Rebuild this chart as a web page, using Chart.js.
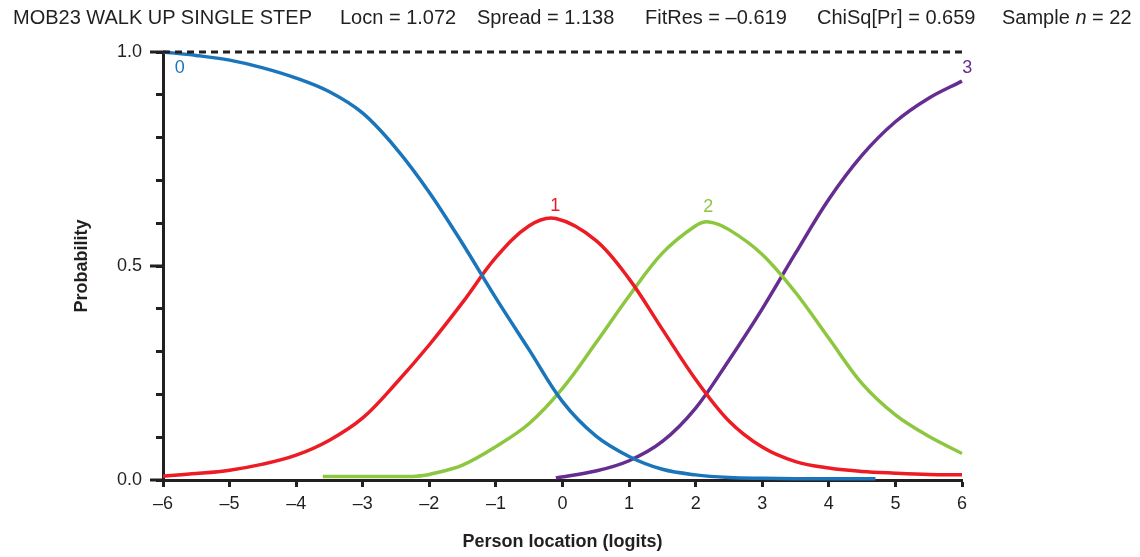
<!DOCTYPE html>
<html>
<head>
<meta charset="utf-8">
<script src="https://cdn.jsdelivr.net/npm/chart.js@4/dist/chart.umd.min.js"></script>
<style>
  body { margin: 0; background: #fff; }
  #wrap { position: relative; width: 1140px; height: 557px; }
  #title span {
    position: absolute;
    top: 7px;
    font: 20px "Liberation Sans", Arial, sans-serif;
    line-height: 20px;
    color: #231f20;
    white-space: nowrap;
  }
</style>
</head>
<body>
<div id="wrap">
  <div id="title">
    <span style="left:13px">MOB23 WALK UP SINGLE STEP</span>
    <span style="left:340px">Locn = 1.072</span>
    <span style="left:477px">Spread = 1.138</span>
    <span style="left:645px">FitRes = –0.619</span>
    <span style="left:817px">ChiSq[Pr] = 0.659</span>
    <span style="left:1002px">Sample <i>n</i> = 22</span>
  </div>
  <canvas id="ccc"></canvas>
</div>
<script>
// category probability curves
const x0 = [-6, -5.5, -5, -4.5, -4, -3.5, -3, -2.5, -2, -1.5, -1, -0.5, 0, 0.5, 1, 1.5, 2, 2.5, 3, 3.5, 4, 4.7];
const p0 = [1.0, 0.992, 0.981, 0.963, 0.939, 0.907, 0.857, 0.775, 0.672, 0.552, 0.425, 0.304, 0.183, 0.103, 0.055, 0.025, 0.012, 0.006, 0.004, 0.003, 0.003, 0.003];

const x1 = [-6, -5.5, -5, -4.5, -4, -3.5, -3, -2.5, -2, -1.5, -1, -0.5, -0.1, 0.5, 1, 1.5, 2, 2.5, 3, 3.5, 4, 4.5, 5, 5.5, 6];
const p1 = [0.009, 0.015, 0.023, 0.037, 0.058, 0.093, 0.145, 0.226, 0.316, 0.415, 0.52, 0.594, 0.611, 0.56, 0.47, 0.352, 0.235, 0.138, 0.077, 0.043, 0.028, 0.02, 0.016, 0.013, 0.012];

const x2 = [-3.6, -3, -2.5, -2.2, -2, -1.5, -1, -0.5, 0, 0.5, 1, 1.5, 2, 2.2, 2.5, 3, 3.5, 4, 4.5, 5, 5.5, 6];
const p2 = [0.008, 0.008, 0.008, 0.009, 0.013, 0.035, 0.078, 0.132, 0.214, 0.32, 0.43, 0.53, 0.594, 0.603, 0.585, 0.527, 0.438, 0.331, 0.225, 0.152, 0.102, 0.062];

const x3 = [-0.1, 0.5, 1, 1.5, 2, 2.5, 3, 3.5, 4, 4.5, 5, 5.5, 6];
const p3 = [0.005, 0.021, 0.045, 0.09, 0.168, 0.28, 0.4, 0.53, 0.656, 0.759, 0.837, 0.892, 0.932];

const refX = [-6, 6];
const refY = [1, 1];

const curveNames = ["0", "1", "2", "3"];
const curveColors = ["#1b75bb", "#ed1c24", "#8dc63f", "#662d91"];
const labelX = [-5.75, -0.11, 2.19, 6.08];
const labelY = [0.963, 0.64, 0.638, 0.963];

const ink = "#231f20";

function pts(xs, ys) {
  return xs.map((x, i) => ({ x: x, y: ys[i] }));
}

const curveSets = [[x0, p0], [x1, p1], [x2, p2], [x3, p3]].map((s, i) => ({
  label: curveNames[i],
  data: pts(s[0], s[1]),
  borderColor: curveColors[i],
  borderWidth: 3.5,
  pointRadius: 0,
  tension: 0.35,
  clip: 6,
}));

const extras = {
  id: "extras",
  afterDraw(chart) {
    const ctx = chart.ctx;
    const xs = chart.scales.x;
    const ys = chart.scales.y;
    const left = chart.chartArea.left;
    ctx.save();
    // longer ticks at 0, 0.5, 1
    ctx.strokeStyle = ink;
    ctx.lineWidth = 3;
    [0, 0.5, 1].forEach((v) => {
      const py = ys.getPixelForValue(v);
      ctx.beginPath();
      ctx.moveTo(left - 13, py);
      ctx.lineTo(left, py);
      ctx.stroke();
    });
    // curve labels
    ctx.font = '18px "Liberation Sans", Arial, sans-serif';
    ctx.textAlign = "center";
    ctx.textBaseline = "middle";
    curveNames.forEach((t, i) => {
      ctx.fillStyle = curveColors[i];
      ctx.fillText(t, xs.getPixelForValue(labelX[i]), ys.getPixelForValue(labelY[i]));
    });
    ctx.restore();
  },
};

new Chart(document.getElementById("ccc"), {
  type: "line",
  data: {
    datasets: [
      {
        label: "ref",
        data: pts(refX, refY),
        borderColor: ink,
        borderWidth: 3,
        borderDash: [7, 5],
        pointRadius: 0,
        clip: 6,
      },
      ...curveSets,
    ],
  },
  options: {
    responsive: true,
    maintainAspectRatio: false,
    animation: false,
    layout: { padding: { left: 0, right: 178, top: 52, bottom: 0 } },
    plugins: { legend: { display: false }, tooltip: { enabled: false } },
    scales: {
      x: {
        type: "linear",
        min: -6,
        max: 6,
        afterFit: (s) => { s.height = 77; },
        border: { display: true, color: ink, width: 3 },
        grid: { drawOnChartArea: false, drawTicks: true, tickLength: 7, tickWidth: 3, tickColor: ink },
        ticks: {
          stepSize: 1,
          padding: 6,
          color: ink,
          font: { family: '"Liberation Sans", Arial, sans-serif', size: 18 },
          callback: (v) => (v < 0 ? "–" + Math.abs(v) : String(v)),
        },
        title: {
          display: true,
          text: "Person location (logits)",
          color: ink,
          font: { family: '"Liberation Sans", Arial, sans-serif', size: 18, weight: "bold" },
          padding: { top: 0, bottom: 4 },
        },
      },
      y: {
        min: 0,
        max: 1,
        afterFit: (s) => { s.width = 163; },
        border: { display: true, color: ink, width: 3 },
        grid: { drawOnChartArea: false, drawTicks: true, tickLength: 7, tickWidth: 3, tickColor: ink },
        ticks: {
          stepSize: 0.1,
          autoSkip: false,
          padding: 14,
          color: ink,
          font: { family: '"Liberation Sans", Arial, sans-serif', size: 18 },
          callback: (v) => (Math.abs(v * 2 - Math.round(v * 2)) < 1e-6 ? v.toFixed(1) : ""),
        },
        title: {
          display: true,
          text: "Probability",
          color: ink,
          font: { family: '"Liberation Sans", Arial, sans-serif', size: 18, weight: "bold" },
          padding: { top: 71, bottom: 0 },
        },
      },
    },
  },
  plugins: [extras],
});
</script>
</body>
</html>
